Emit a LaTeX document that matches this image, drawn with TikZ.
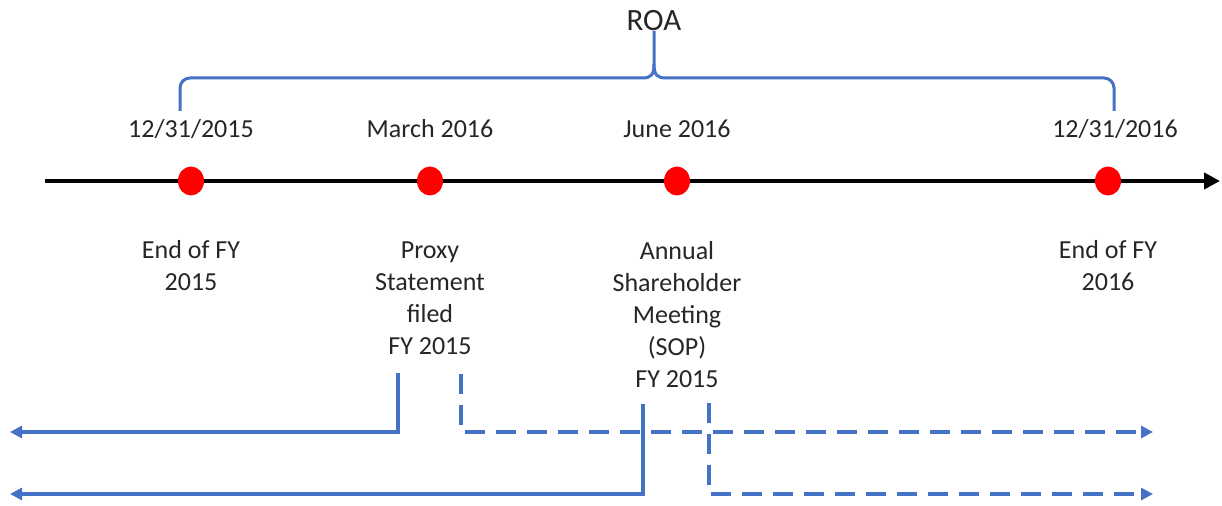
\documentclass[tikz,border=0pt]{standalone}
\usepackage{fontspec}
\setmainfont{Carlito}
\usetikzlibrary{arrows.meta,shapes.geometric}
\definecolor{roablue}{HTML}{4472C4}
\definecolor{ink}{HTML}{262626}
\definecolor{dotred}{HTML}{FF0000}
\begin{document}
\begin{tikzpicture}[x=0.5pt,y=-0.5pt,
  every node/.style={text=ink, font=\fontsize{13}{16}\selectfont, align=center, inner sep=0pt},
  event/.style={ellipse, fill=dotred, minimum width=13pt, minimum height=14.5pt},
  datelabel/.style={anchor=base},
  notelabel/.style={anchor=north},
  timeline/.style={line width=2.2pt, black, -{Triangle[length=8pt,width=8pt]}},
  bracket/.style={roablue, line width=1.5pt},
  carry/.style={roablue, line width=1.6pt, -{Triangle[length=6pt,width=6pt]}},
  carrydash/.style={carry, dash pattern=on 10pt off 5.5pt}]

\useasboundingbox (0,0) rectangle (1222,506);

% time axis
\coordinate (t0) at (45,181);
\coordinate (t1) at (1220,181);
\draw[timeline] (t0) -- (t1);

% events on the axis
\node[event] (e1) at (191,181) {};
\node[event] (e2) at (430,181) {};
\node[event] (e3) at (677,181) {};
\node[event] (e4) at (1108,181) {};

% dates above the axis
\node[datelabel] (d1) at (191,138) {12/31/2015};
\node[datelabel] (d2) at (430,138) {March 2016};
\node[datelabel] (d3) at (677,138) {June 2016};
\node[datelabel] (d4) at (1115,138) {12/31/2016};

% descriptions below the axis
\node[notelabel] (n1) at (191,240) {End of FY\\2015};
\node[notelabel] (n2) at (430,241) {Proxy\\Statement\\filed\\FY 2015};
\node[notelabel] (n3) at (677,241) {Annual\\Shareholder\\Meeting\\(SOP)\\FY 2015};
\node[notelabel] (n4) at (1108,240) {End of FY\\2016};

% measurement period bracket
\node[font=\fontsize{15.5}{19}\selectfont, anchor=base] (roa) at (654,31) {ROA};
\coordinate (bl) at (180,111);
\coordinate (br) at (1114,111);
\coordinate (tip) at (654,31);
\draw[bracket, rounded corners=5pt] (bl) -- (180,78) -- (642,78);
\draw[bracket] (642,78) .. controls (651,78) and (654,75) .. (654,64) -- (tip);
\draw[bracket] (654,64) .. controls (654,75) and (657,78) .. (666,78);
\draw[bracket, rounded corners=5pt] (666,78) -- (1114,78) -- (br);

% look-back and look-forward periods
\coordinate (p1) at (398,373);
\coordinate (p1l) at (10,432);
\coordinate (p2) at (461,374);
\coordinate (p2r) at (1153,432);
\coordinate (m1) at (643,404);
\coordinate (m1l) at (10,494);
\coordinate (m2) at (709,403);
\coordinate (m2r) at (1153,494);
\draw[carry] (p1) |- (p1l);
\draw[carrydash] (p2) |- (p2r);
\draw[carry] (m1) |- (m1l);
\draw[carrydash] (m2) |- (m2r);
\end{tikzpicture}
\end{document}
